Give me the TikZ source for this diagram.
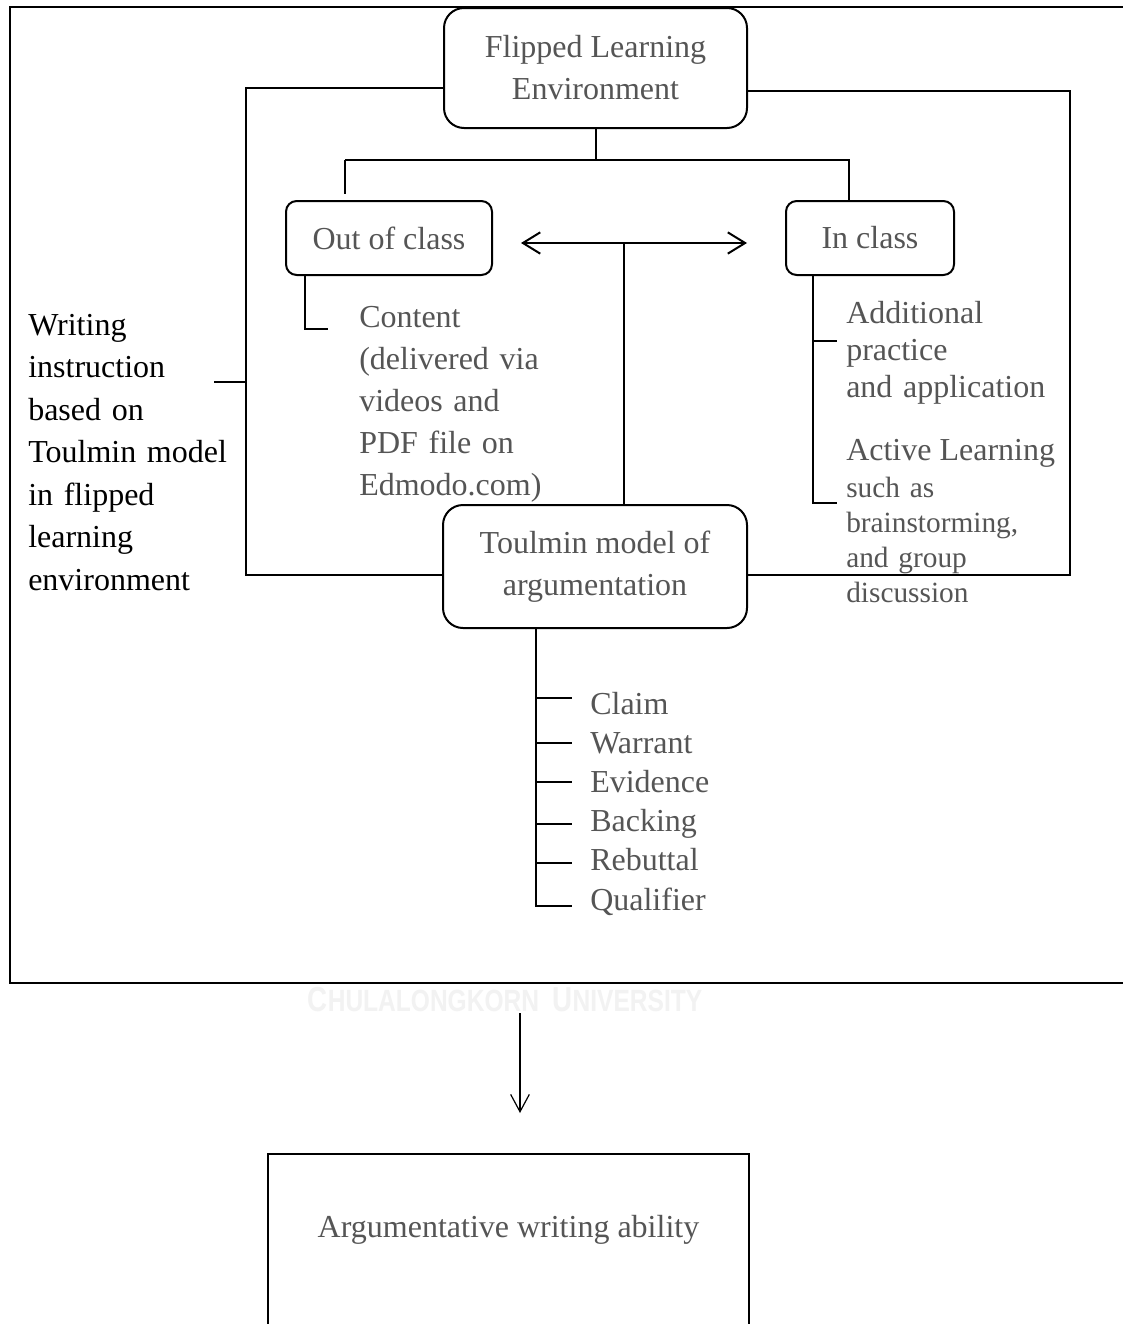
\documentclass[tikz,border=0pt]{standalone}
\usepackage{fontspec}
\setmainfont{Liberation Serif}
\newfontfamily\wmfont{Liberation Sans}
\usetikzlibrary{arrows.meta}
\definecolor{txtgray}{RGB}{85,85,85}
\definecolor{wmgray}{RGB}{242,242,242}
\tikzset{
  barbtip/.tip={Straight Barb[length=13pt,width=16pt]},
  downtip/.tip={Straight Barb[length=13pt,width=14pt]},
}
\begin{document}
\begin{tikzpicture}[x=0.75pt,y=-0.75pt,
  line/.style={line width=1.5pt},
  thinline/.style={line width=0.9pt},
  rbox/.style={draw, line width=1.5pt, inner sep=0pt, align=center, text=txtgray,
    font=\fontsize{24}{31.5}\selectfont},
  gtext/.style={text=txtgray, inner sep=0pt, anchor=base west, align=left,
    font=\fontsize{24}{31.5}\selectfont},
  item/.style={text=txtgray, inner sep=0pt, anchor=base west, font=\fontsize{24}{28}\selectfont},
]
\useasboundingbox (0,0) rectangle (1123,1324);
\fill[white] (0,0) rectangle (1123,1324);
\clip (0,0) rectangle (1123,1324);

% outer frame
\node[draw, line width=1.5pt, minimum width=847.5pt, minimum height=732pt, inner sep=0pt] (outer) at (575,495) {};

% boxes
\node[rbox, minimum width=227.25pt, minimum height=90pt, rounded corners=15pt] (flip) at (595.5,68) {Flipped Learning\\Environment};
\node[rbox, minimum width=154.5pt, minimum height=55.5pt, rounded corners=8pt] (out) at (389,238) {Out of class};
\node[rbox, minimum width=126pt, minimum height=55.5pt, rounded corners=8pt] (in) at (870,238) {In class};
\node[rbox, minimum width=228pt, minimum height=92.25pt, rounded corners=15pt] (toul) at (595,566.5) {Toulmin model of\\argumentation};

% texts
\node[inner sep=0pt, anchor=base west, align=left, text width=210pt,
  font=\fontsize{24}{31.9}\selectfont] (writing) at (28,335)
  {Writing\\instruction\\based on\\Toulmin model\\in flipped\\learning\\environment};
\node[gtext, text width=160pt] (content) at (359,327)
  {Content\\(delivered via\\videos and\\PDF file on\\Edmodo.com)};
\node[gtext, text width=210pt, font=\fontsize{24}{27.75}\selectfont] (addl) at (846,323)
  {Additional\\practice\\and application};
\node[gtext] (active) at (846,460) {Active Learning};
\node[gtext, text width=200pt, font=\fontsize{22}{26.25}\selectfont] (such) at (846,497)
  {such as\\brainstorming,\\and group\\discussion};

% Toulmin elements
\node[item] (c1) at (590,714) {Claim};
\node[item] (c2) at (590,753) {Warrant};
\node[item] (c3) at (590,792) {Evidence};
\node[item] (c4) at (590,831) {Backing};
\node[item] (c5) at (590,870) {Rebuttal};
\node[item] (c6) at (590,910) {Qualifier};

% bottom box
\node[draw, line width=1.5pt, minimum width=360.75pt, minimum height=200pt, anchor=north, inner sep=0pt,
  label={[anchor=base, yshift=-63pt, text=txtgray, font=\fontsize{24}{28}\selectfont]north:Argumentative writing ability}]
  (abil) at (508.5,1153) {};

% watermark
\node[text=wmgray, inner sep=0pt, font=\wmfont\bfseries, xscale=0.8, anchor=base] (wm) at (505,1011)
  {\fontsize{26}{26}\selectfont C\fontsize{23}{23}\selectfont HULALONGKORN\ \ \fontsize{26}{26}\selectfont U\fontsize{23}{23}\selectfont NIVERSITY};

% coordinates
\coordinate (bl) at (345,160);
\coordinate (bri) at (849,160);
\coordinate (al) at (521,243);
\coordinate (ar) at (747,243);
\coordinate (am) at (624,243);
\coordinate (od) at (305,329);
\coordinate (id1) at (813,341);
\coordinate (id2) at (813,503);
\coordinate (lt) at (246,88);
\coordinate (lb) at (246,575);
\coordinate (rt) at (1070,91);
\coordinate (rb) at (1070,575);
\coordinate (wt) at (214,382);
\coordinate (tv) at (536,906);
\coordinate (da) at (520,1013);

% connectors
\draw[line] (flip.south) -- (flip.south |- bl);
\draw[line] (bl) -- (bri) -- (in.north -| bri);
\draw[line, shorten >=4.5pt] (bl) -- (out.north -| bl);
\draw[line, barbtip-barbtip] (al) -- (ar);
\draw[line] (am) -- (toul.north -| am);
\draw[line] (out.south -| od) -- (od) -- ++(23,0);
\draw[line] (in.south -| id1) -- (id2) -- ++(23.5,0);
\draw[line] (id1) -- ++(23.5,0);
\draw[line] (flip.west |- lt) -- (lt) -- (lb) -- (toul.west |- lb);
\draw[line] (flip.east |- rt) -- (rt) -- (rb) -- (toul.east |- rb);
\draw[line] (wt) -- (wt -| lt);
\draw[line] (toul.south -| tv) -- (tv) -- ++(36,0);
\foreach \yy in {698,743,782,824,863} {
  \draw[line] (536,\yy) -- (572,\yy);
}
\draw[thinline, -downtip, shorten >=30pt] (da) -- (abil.north -| da);
\end{tikzpicture}
\end{document}
